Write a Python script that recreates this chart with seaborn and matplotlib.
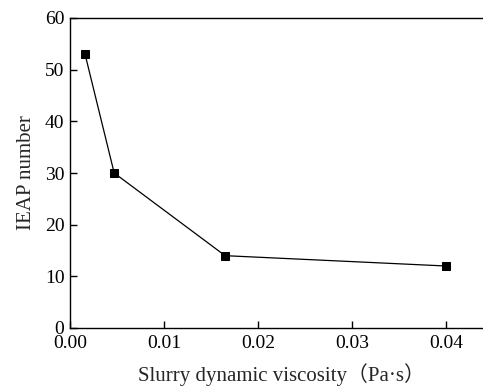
import matplotlib
matplotlib.use("Agg")
import matplotlib.pyplot as plt
import seaborn as sns
import pandas as pd

viscosity = [0.0016, 0.0047, 0.0165, 0.040]
ieap_number = [53, 30, 14, 12]
xticks = [0.00, 0.01, 0.02, 0.03, 0.04]
yticks = [0, 10, 20, 30, 40, 50, 60]

sns.set_style("ticks")
plt.rcParams['font.family'] = ['Liberation Serif', 'Noto Sans CJK SC']

df = pd.DataFrame({"x": viscosity, "y": ieap_number})

fig = plt.figure(figsize=(4.83, 3.9), dpi=100)
ax = fig.add_axes([70/483, 1 - 328/390, 423/483, 310/390])
sns.lineplot(data=df, x="x", y="y", ax=ax, color="black", linewidth=0.9,
             marker="s", markersize=6, markeredgecolor="black", markerfacecolor="black")
ax.set_xlim(0, 0.045)
ax.set_ylim(0, 60)
ax.set_xticks(xticks)
ax.set_xticklabels([f"{v:.2f}" for v in xticks])
ax.set_yticks(yticks)
ax.tick_params(direction="in", length=5, width=1, labelsize=14, colors="black")
ax.tick_params(axis="y", pad=4)
ax.tick_params(axis="x", pad=5)
for s in ax.spines.values():
    s.set_linewidth(1)
    s.set_color("black")
ax.set_xlabel("Slurry dynamic viscosity（Pa·s）", fontsize=15,
              family=['Liberation Serif', 'Noto Sans CJK SC'], labelpad=8)
ax.set_ylabel("IEAP number", fontsize=15, labelpad=6)
fig.savefig("out.png", dpi=100)
